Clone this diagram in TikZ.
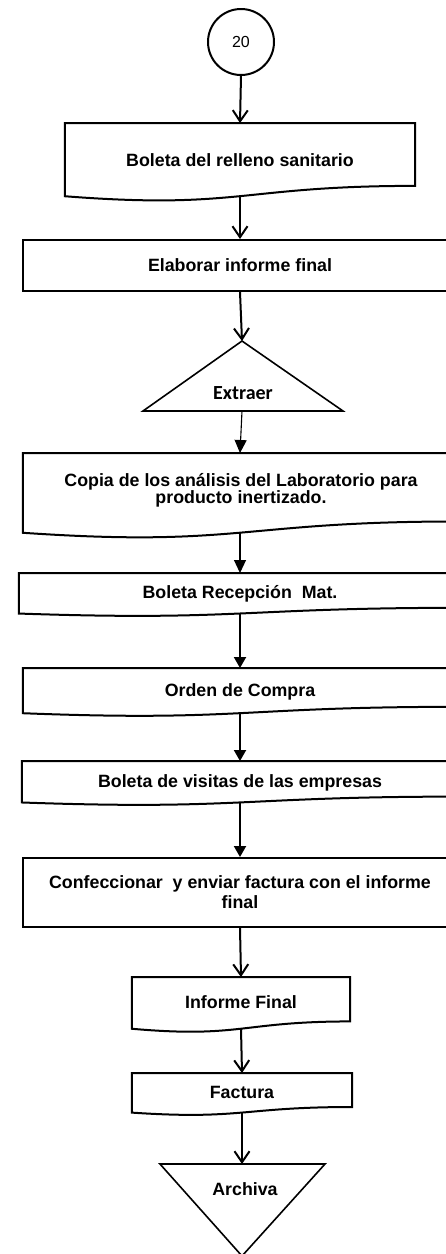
\documentclass[tikz,border=0pt]{standalone}
\usepackage{fontspec}
\setmainfont{Liberation Sans}
\newfontfamily\calibrif{Carlito}
\usetikzlibrary{arrows.meta,calc}

\newcommand\mydoc[1]{%
  \draw[boxline] (#1.north west) -- (#1.north east)
    -- ($(#1.north east)!0.802!(#1.south east)$)
    .. controls ($(#1.north)!0.802!(#1.south)$) and ($(#1.north)!1.1075!(#1.south)$)
    .. ($(#1.north west)!0.934!(#1.south west)$) -- cycle;
  \coordinate (#1-b) at ($(#1.north)!0.933!(#1.south)$);
}

\tikzset{
  boxline/.style={line width=2pt, line join=miter},
  txt/.style={font=\fontsize{17.8}{20}\selectfont\bfseries, align=center, inner sep=0pt},
  docnode/.style={txt, text height=13pt, text depth=5pt},
  openarrow/.style={line width=2pt, -{Straight Barb[length=11pt,width=15pt]}},
  fillarrow/.style={line width=2pt, -{Triangle[length=11pt,width=12pt]}},
  thinarrow/.style={line width=1.1pt, -{Triangle[length=13pt,width=12pt]}},
  tri/.style={line width=1.6pt, line join=miter},
}

\begin{document}
\begin{tikzpicture}[x=1pt,y=-1pt]
\useasboundingbox (0,0) rectangle (446,1254);
\fill[white] (0,0) rectangle (446,1254);
\clip (0,0) rectangle (446,1254);

% connector circle
\node[draw, circle, line width=2pt, minimum size=66pt, inner sep=0pt,
      font=\fontsize{16}{18}\selectfont] (c20) at (241,42) {20};

% 1
\node[docnode, minimum width=350pt, minimum height=78pt, anchor=north] (b1) at (240,123) {Boleta del relleno sanitario};
\mydoc{b1}

% 2
\node[txt, draw, boxline, minimum width=434pt, minimum height=51pt, anchor=north] (b2) at (240,239) {Elaborar informe final};

% Extraer triangle
\coordinate (ext-apex) at (242,341);
\coordinate (ext-base) at (242,411);
\draw[tri] (ext-apex) -- (343,411) -- (143,411) -- cycle;
\node[font=\calibrif\fontsize{20}{22}\selectfont\bfseries, inner sep=0pt] (ext) at (243,393) {Extraer};

% 3
\node[minimum width=434pt, minimum height=85pt, inner sep=0pt, anchor=north] (b3) at (240,453) {};
\mydoc{b3}
\node[txt, font=\fontsize{17.8}{17}\selectfont\bfseries] (b3t) at (241,490) {Copia de los análisis del Laboratorio para\\producto inertizado.};

% 4
\node[docnode, minimum width=442pt, minimum height=43pt, anchor=north] (b4) at (240,573) {Boleta Recepción\ \ Mat.};
\mydoc{b4}

% 5
\node[docnode, minimum width=434pt, minimum height=48pt, anchor=north] (b5) at (240,668) {Orden de Compra};
\mydoc{b5}

% 6
\node[docnode, minimum width=436pt, minimum height=44pt, anchor=north] (b6) at (240,761) {Boleta de visitas de las empresas};
\mydoc{b6}

% 7
\node[txt, draw, boxline, minimum width=434pt, minimum height=69pt, anchor=north] (b7) at (240,857) {Confeccionar\ \ y enviar factura con el informe\\final};

% 8
\node[docnode, minimum width=218pt, minimum height=55pt, anchor=north] (b8) at (241,977) {Informe Final};
\mydoc{b8}

% 9
\node[docnode, minimum width=220pt, minimum height=42pt, anchor=north] (b9) at (242,1073) {Factura};
\mydoc{b9}

% Archiva triangle
\coordinate (arc-top) at (242,1164);
\draw[tri] (160,1164) -- (325,1164) -- (242,1256) -- cycle;
\node[txt] (arc) at (245,1189) {Archiva};

% connectors
\draw[openarrow] (c20.south) -- (b1.north);
\draw[openarrow] (b1-b) -- (b2.north);
\draw[openarrow] (b2.south) -- (ext-apex);
\draw[thinarrow] (ext-base) -- (b3.north);
\draw[thinarrow] (b3-b) -- (b4.north);
\draw[fillarrow] (b4-b) -- (b5.north);
\draw[fillarrow] (b5-b) -- (b6.north);
\draw[fillarrow] (b6-b) -- (b7.north);
\draw[openarrow] (b7.south) -- (b8.north);
\draw[openarrow] (b8-b) -- (b9.north);
\draw[openarrow] (b9-b) -- (arc-top);
\end{tikzpicture}
\end{document}
